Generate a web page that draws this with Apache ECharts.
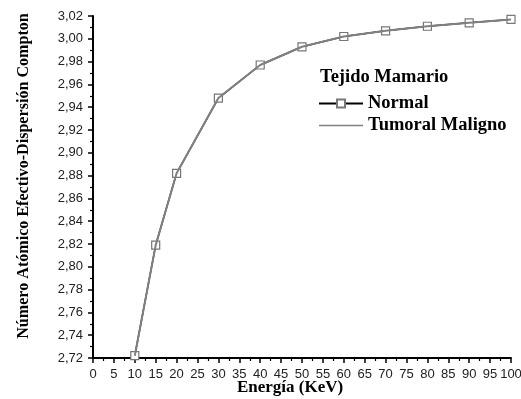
<!DOCTYPE html>
<html>
<head>
<meta charset="utf-8">
<script src="https://cdn.jsdelivr.net/npm/echarts@6/dist/echarts.min.js"></script>
<style>
  html, body { margin: 0; padding: 0; background: #fff; }
  #chart { width: 521px; height: 399px; }
</style>
</head>
<body>
<div id="chart"></div>
<script>
const energia = [10, 15, 20, 30, 40, 50, 60, 70, 80, 90, 100];
const normal = [2.722, 2.819, 2.882, 2.948, 2.977, 2.993, 3.002, 3.007, 3.011, 3.014, 3.017];
const tumoral = [2.722, 2.819, 2.882, 2.948, 2.977, 2.993, 3.002, 3.007, 3.011, 3.014, 3.017];

const serif = 'Liberation Serif';
const sans = 'Liberation Sans';

const chart = echarts.init(document.getElementById('chart'));

chart.setOption({
  backgroundColor: '#fff',
  animation: false,
  title: {
    text: 'Tejido Mamario',
    left: 315, top: 63,
    textStyle: { fontFamily: serif, fontWeight: 'bold', fontSize: 18.5, color: '#000' }
  },
  legend: {
    left: 313, top: 89, orient: 'vertical',
    itemWidth: 44, itemHeight: 10, itemGap: 3,
    textStyle: { fontFamily: serif, fontWeight: 'bold', fontSize: 18.5, color: '#000' },
    data: [
      'Normal',
      // thin gray line only, extra zero-area subpaths keep the box 10px tall
      { name: 'Tumoral Maligno', icon: 'path://M0,0L0.01,0M0,4.2L44,4.2L44,5.8L0,5.8ZM0,10L0.01,10' }
    ]
  },
  grid: { left: 93, right: 10, top: 16, bottom: 41, outerBoundsMode: 'none' },
  xAxis: {
    type: 'value', min: 0, max: 100, interval: 5,
    name: 'Energía (KeV)', nameLocation: 'middle', nameGap: 21, nameMoveOverlap: false,
    nameTextStyle: { fontFamily: serif, fontWeight: 'bold', fontSize: 17, color: '#000', padding: [0, 24, 0, 0] },
    axisLine: { onZero: false, lineStyle: { color: '#000', width: 2 } },
    axisTick: { length: 5, lineStyle: { color: '#000', width: 1.5 } },
    minorTick: { show: true, splitNumber: 2, length: 3, lineStyle: { color: '#000', width: 1.2 } },
    axisLabel: { fontFamily: sans, fontSize: 13, color: '#222', margin: 10 },
    splitLine: { show: false }
  },
  yAxis: {
    type: 'value', min: 2.72, max: 3.02, interval: 0.02,
    name: 'Número Atómico Efectivo-Dispersión Compton', nameLocation: 'middle', nameGap: 61,
    nameRotate: 90,
    nameTextStyle: { fontFamily: serif, fontWeight: 'bold', fontSize: 16.1, color: '#000', padding: [0, 0, 0, 22] },
    axisLine: { onZero: false, lineStyle: { color: '#000', width: 2 } },
    axisTick: { length: 5, lineStyle: { color: '#000', width: 1.5 } },
    minorTick: { show: true, splitNumber: 2, length: 3, lineStyle: { color: '#000', width: 1.2 } },
    axisLabel: {
      fontFamily: sans, fontSize: 13, color: '#222', margin: 10,
      formatter: v => v.toFixed(2).replace('.', ',')
    },
    splitLine: { show: false }
  },
  series: [
    {
      name: 'Normal', type: 'line', z: 2,
      data: energia.map((e, i) => [e, normal[i]]),
      symbol: 'rect', symbolSize: 8, showAllSymbol: true,
      itemStyle: { color: '#fff', borderColor: '#777', borderWidth: 1.2 },
      lineStyle: { color: '#000', width: 1.5 }
    },
    {
      name: 'Tumoral Maligno', type: 'line', z: 3,
      data: energia.map((e, i) => [e, tumoral[i]]),
      symbol: 'none',
      itemStyle: { color: '#808080' },
      lineStyle: { color: '#808080', width: 2 }
    }
  ]
});
</script>
</body>
</html>
